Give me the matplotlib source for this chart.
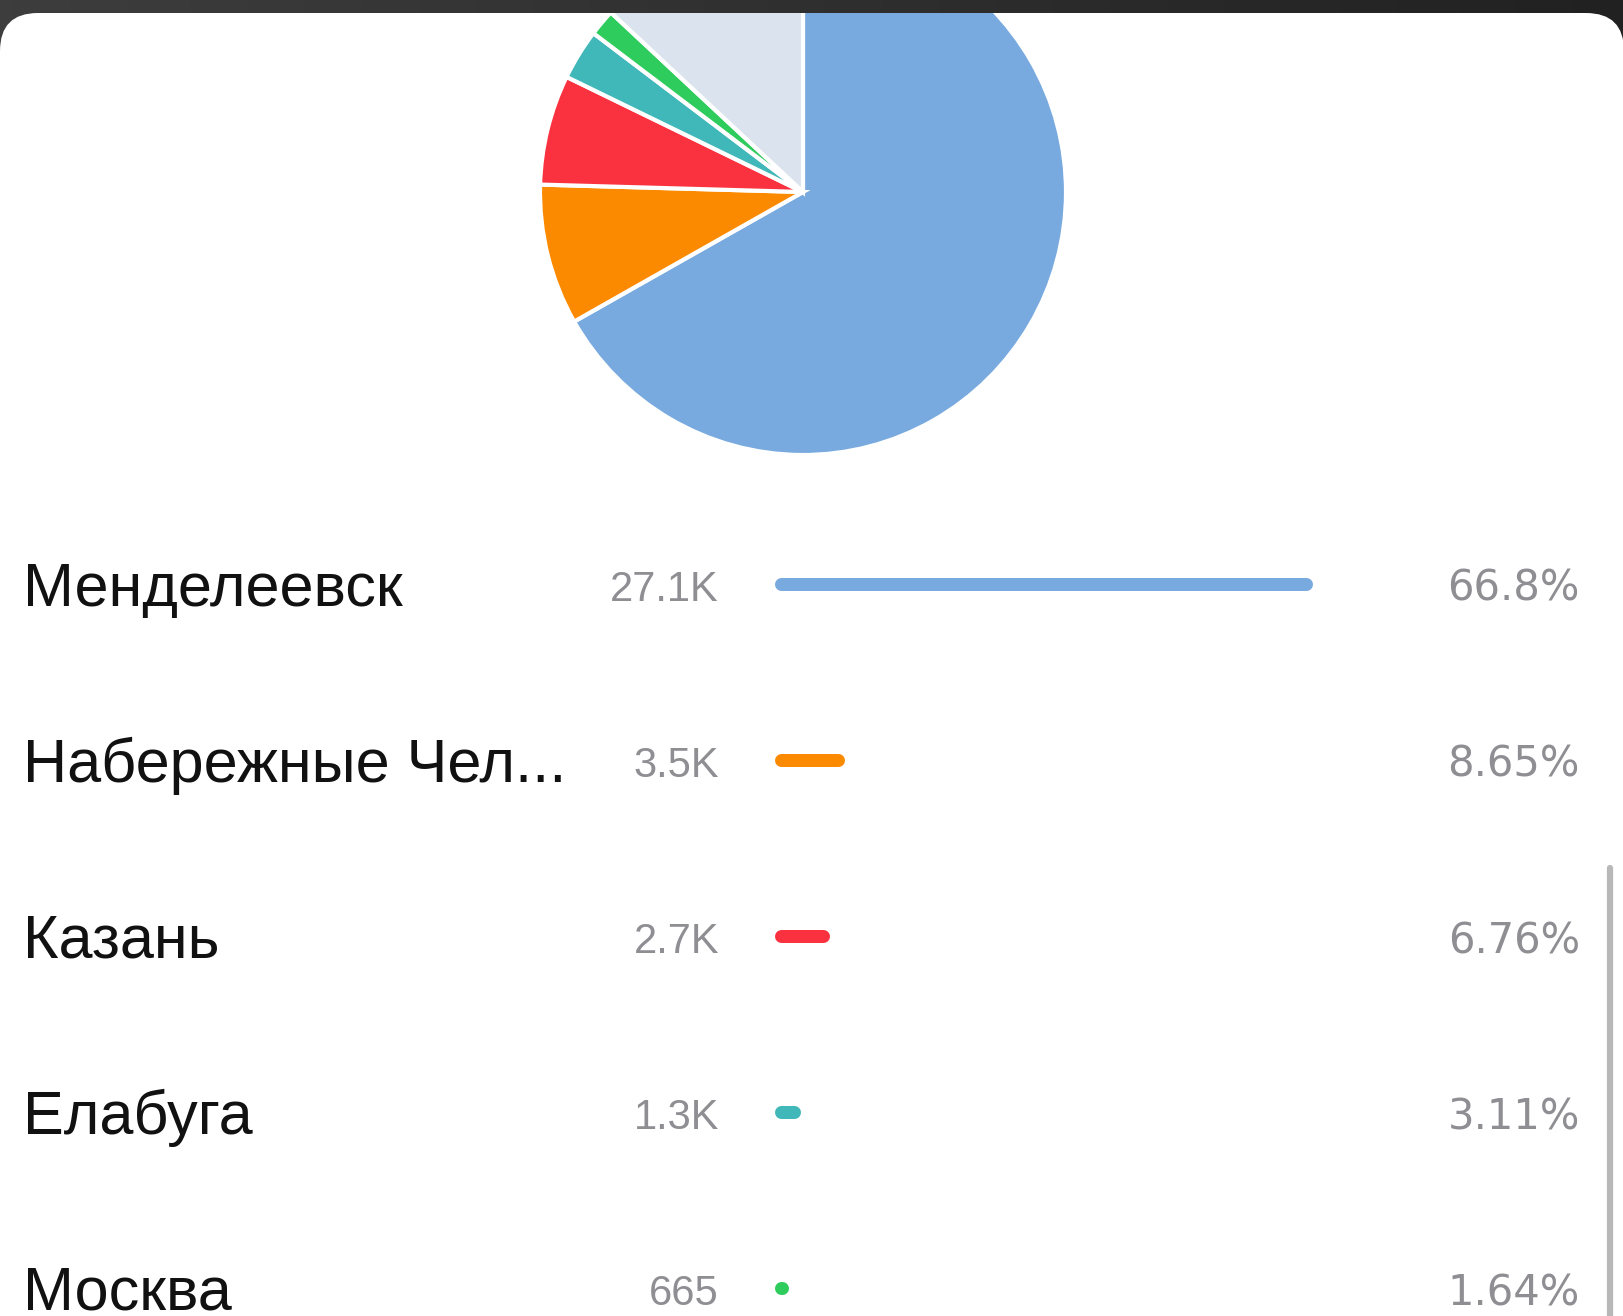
import numpy as np
import matplotlib
matplotlib.use('Agg')
import matplotlib.pyplot as plt
from matplotlib.patches import FancyBboxPatch

# data
cities = ['Менделеевск', 'Набережные Чел...', 'Казань', 'Елабуга', 'Москва']
counts = ['27.1K', '3.5K', '2.7K', '1.3K', '665']
shares = [66.8, 8.65, 6.76, 3.11, 1.64]
other_share = 13.04                                 # light grey slice, not listed
colors = ['#78aadf', '#fb8a00', '#fa323f', '#40b7b8', '#2ecc5c']
other_color = '#dae3ee'

W, H = 1624, 1316
def Y(y):                                           # screenshot y (down) -> axes y (up)
    return H - y

fig = plt.figure(figsize=(W / 100, H / 100), dpi=100)
ax = fig.add_axes([0, 0, 1, 1])

# dark phone frame behind the card
grad = np.linspace(0.24, 0.13, 256).reshape(1, -1)
ax.imshow(np.dstack([grad, grad, grad]), extent=(0, W, 0, H), aspect='auto', zorder=0)

card = FancyBboxPatch((0, -60), W, Y(13) + 60, boxstyle='round,pad=0,rounding_size=38',
                      facecolor='white', edgecolor='none', zorder=1)
ax.add_patch(card)

# pie, cut by the top of the card
wedges, _ = ax.pie(shares + [other_share], colors=colors + [other_color], startangle=90,
                   counterclock=False, center=(803, Y(192)), radius=263,
                   wedgeprops=dict(edgecolor='white', linewidth=3))
for w in wedges:
    w.set_zorder(2)
    w.set_clip_on(True)
    w.set_clip_path(card)

# list rows
row0, step = 585, 176
bar_x0, bar_max, bar_th = 775, 538, 13
for i, (city, cnt, sh, col) in enumerate(zip(cities, counts, shares, colors)):
    yc = row0 + i * step
    ax.text(23, Y(yc + 21), city, fontsize=44, family='Liberation Sans',
            color='#111111', ha='left', va='baseline', zorder=3)
    ax.text(719, Y(yc + 16), cnt, fontsize=30, family='Liberation Sans',
            color='#8e8e93', ha='right', va='baseline', zorder=3)
    pct = ('%.3g' % sh) + '%'
    ax.text(1580, Y(yc + 16), pct, fontsize=30, family='DejaVu Sans',
            color='#8e8e93', ha='right', va='baseline', zorder=3)
    L = bar_max * sh / max(shares)
    r = bar_th / 2
    x1 = bar_x0 + r
    x2 = max(bar_x0 + L - r, x1 + 0.5)
    ax.plot([x1, x2], [Y(yc - 1), Y(yc - 1)], color=col, lw=bar_th * 0.72,
            solid_capstyle='round', zorder=3)

# scrollbar
ax.plot([1610, 1610], [Y(868), Y(H + 20)], color='#b8b8b8', lw=4.5,
        solid_capstyle='round', zorder=3)

ax.set_xlim(0, W)
ax.set_ylim(0, H)
ax.axis('off')
fig.savefig('out.png', dpi=100)
